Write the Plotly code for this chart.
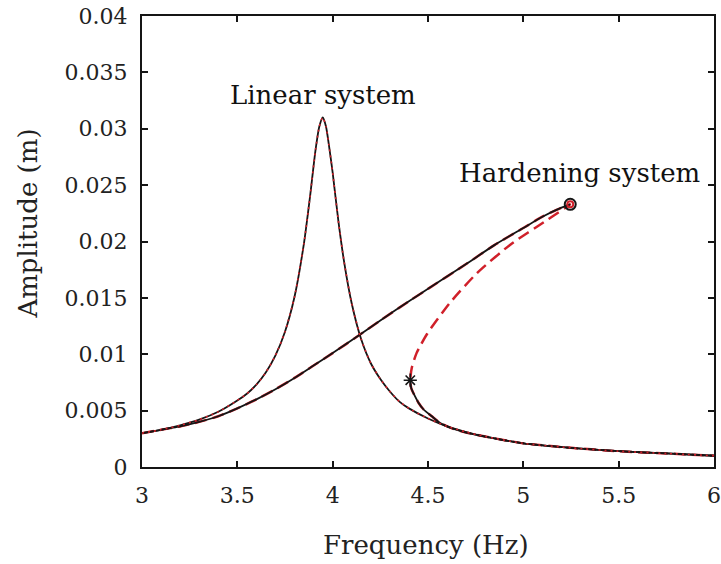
import plotly.graph_objects as go

# ---- data ----
lin_f = [3.0, 3.1, 3.2, 3.3, 3.4, 3.5, 3.55, 3.6, 3.65, 3.7, 3.75, 3.8, 3.85, 3.88, 3.91, 3.93,
         3.948, 3.965, 3.98, 4.0, 4.03, 4.06, 4.1, 4.15, 4.2, 4.25, 4.3, 4.35, 4.4, 4.5,
         4.6, 4.7, 4.8, 5.0, 5.25, 5.5, 5.75, 6.0]
lin_a = [0.0030, 0.0033, 0.0037, 0.0042, 0.0049, 0.0059, 0.0065, 0.0073, 0.0084, 0.0099, 0.0120,
         0.0151, 0.0199, 0.0238, 0.0281, 0.0302, 0.0310, 0.0302, 0.0286, 0.0261, 0.0218,
         0.0182, 0.0145, 0.0113, 0.0092, 0.0078, 0.0067, 0.0058, 0.0052, 0.0043, 0.0036,
         0.0031, 0.0027, 0.0021, 0.0017, 0.0014, 0.0012, 0.0010]

hard_up_f = [3.0, 3.1, 3.2, 3.3, 3.4, 3.5, 3.6, 3.7, 3.8, 3.9, 4.0, 4.14, 4.25, 4.4, 4.5,
             4.7, 4.85, 5.0, 5.1, 5.2, 5.246]
hard_up_a = [0.0030, 0.0033, 0.0036, 0.0040, 0.0045, 0.0052, 0.0060, 0.0069, 0.0079, 0.0090,
             0.0101, 0.0117, 0.0130, 0.0147, 0.0158, 0.0180, 0.0197, 0.0212, 0.0222, 0.0230,
             0.0233]

hard_un_f = [5.246, 5.124, 4.93, 4.757, 4.617, 4.495, 4.44, 4.415, 4.407]
hard_un_a = [0.0233, 0.0219, 0.0197, 0.0172, 0.0146, 0.0118, 0.0101, 0.0088, 0.0077]

hard_lo_f = [4.407, 4.412, 4.425, 4.45, 4.477, 4.52, 4.564, 4.63, 4.69, 4.8, 5.0, 5.25,
             5.5, 5.75, 6.0]
hard_lo_a = [0.0077, 0.0070, 0.0065, 0.0057, 0.0051, 0.0045, 0.0039, 0.0034, 0.0031,
             0.0027, 0.0021, 0.0017, 0.0014, 0.0012, 0.0010]

jump_up = (5.246, 0.0233)
jump_down = (4.407, 0.0077)

x_ticks = [3, 3.5, 4, 4.5, 5, 5.5, 6]
x_tick_labels = ["3", "3.5", "4", "4.5", "5", "5.5", "6"]
y_ticks = [0, 0.005, 0.01, 0.015, 0.02, 0.025, 0.03, 0.035, 0.04]
y_tick_labels = ["0", "0.005", "0.01", "0.015", "0.02", "0.025", "0.03", "0.035", "0.04"]

RED = "#d0202a"
BLACK = "#151515"
FONT = "DejaVu Serif"

fig = go.Figure()

# hardening analytical (red dashed), full S-curve
fig.add_trace(go.Scatter(
    x=hard_up_f + hard_un_f[1:] + hard_lo_f[1:],
    y=hard_up_a + hard_un_a[1:] + hard_lo_a[1:],
    mode="lines", line=dict(color=RED, width=2.5, dash="12px,6px", shape="spline", smoothing=0.6),
    showlegend=False, hoverinfo="skip"))
# hardening numerical stable branches (black)
fig.add_trace(go.Scatter(x=hard_up_f, y=hard_up_a, mode="lines",
                         line=dict(color=BLACK, width=1.8, shape="spline", smoothing=0.6),
                         showlegend=False))
fig.add_trace(go.Scatter(x=hard_lo_f, y=hard_lo_a, mode="lines",
                         line=dict(color=BLACK, width=1.8, shape="spline", smoothing=0.6),
                         showlegend=False))
# linear: black solid + red dotted
fig.add_trace(go.Scatter(x=lin_f, y=lin_a, mode="lines",
                         line=dict(color=BLACK, width=1.8, shape="spline", smoothing=0.6),
                         showlegend=False))
fig.add_trace(go.Scatter(x=lin_f, y=lin_a, mode="lines",
                         line=dict(color=RED, width=1.6, dash="2px,4px", shape="spline", smoothing=0.6),
                         showlegend=False))
# jump markers
fig.add_trace(go.Scatter(x=[jump_up[0]], y=[jump_up[1]], mode="markers",
                         marker=dict(symbol="circle-open", size=11, color=BLACK,
                                     line=dict(color=BLACK, width=2)),
                         showlegend=False))
fig.add_trace(go.Scatter(x=[jump_up[0]], y=[jump_up[1]], mode="markers",
                         marker=dict(symbol="circle-open", size=6, color=RED,
                                     line=dict(color=RED, width=2)),
                         showlegend=False))
fig.add_trace(go.Scatter(x=[jump_down[0]], y=[jump_down[1]], mode="markers",
                         marker=dict(symbol="asterisk-open", size=11, color=BLACK,
                                     line=dict(color=BLACK, width=1.6)),
                         showlegend=False))

axis_common = dict(showline=True, linecolor=BLACK, linewidth=2, mirror="ticks",
                   ticks="inside", ticklen=6, tickwidth=1.6, tickcolor=BLACK,
                   showgrid=False, zeroline=False,
                   tickfont=dict(family=FONT, size=22, color="#222"))

fig.update_xaxes(range=[3, 6], tickvals=x_ticks, ticktext=x_tick_labels,
                 ticklabelstandoff=8, **axis_common)
fig.update_yaxes(range=[0, 0.04], tickvals=y_ticks, ticktext=y_tick_labels,
                 ticklabelstandoff=8, **axis_common)

fig.add_annotation(x=3.95, y=0.033, xref="x", yref="y", text="Linear system",
                   showarrow=False, font=dict(family=FONT, size=26, color="#111"))
fig.add_annotation(x=5.293, y=0.0261, xref="x", yref="y", text="Hardening system",
                   showarrow=False, font=dict(family=FONT, size=26, color="#111"))
fig.add_annotation(x=426 / 721, y=1 - 545 / 564, xref="paper", yref="paper",
                   text="Frequency (Hz)", showarrow=False, xanchor="center", yanchor="middle",
                   font=dict(family=FONT, size=26, color="#222"))
fig.add_annotation(x=27 / 721, y=1 - 224 / 564, xref="paper", yref="paper",
                   text="Amplitude (m)", showarrow=False, textangle=-90,
                   xanchor="center", yanchor="middle",
                   font=dict(family=FONT, size=26, color="#222"))

fig.update_layout(width=721, height=564, plot_bgcolor="white", paper_bgcolor="white",
                  margin=dict(l=141.5, r=7, t=16, b=97, autoexpand=False))
# paper coords of annotations are relative to plot area; convert
for ann in fig.layout.annotations:
    if ann.xref == "paper":
        px_x = ann.x * 721
        px_y = (1 - ann.y) * 564
        ann.x = (px_x - 141.5) / (721 - 141.5 - 7)
        ann.y = (467 - px_y) / (467 - 16)

fig.write_html("out.html")
